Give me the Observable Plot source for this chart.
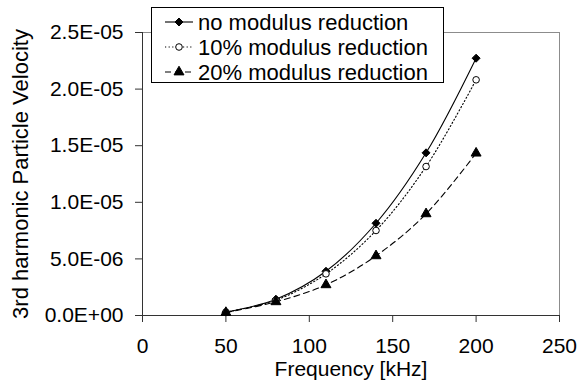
<!DOCTYPE html>
<html>
<head>
<meta charset="utf-8">
<script src="https://cdn.jsdelivr.net/npm/d3@7"></script>
<script src="https://cdn.jsdelivr.net/npm/@observablehq/plot@0.6"></script>
<style>
  html, body { margin: 0; padding: 0; background: #fff; }
  #wrap { position: relative; width: 582px; height: 385px; font-family: "Liberation Sans", Arial, sans-serif; }
  #legend { position: absolute; left: 151px; top: 7px; }
  #legend svg { overflow: visible; display: block; }
</style>
</head>
<body>
<div id="wrap"><div id="chart"></div><div id="legend"></div></div>
<script>
const frequency = [50, 80, 110, 140, 170, 200];
const noReduction   = [3.0e-7, 1.44e-6, 3.91e-6, 8.15e-6, 1.437e-5, 2.273e-5];
const reduction10   = [3.0e-7, 1.35e-6, 3.68e-6, 7.51e-6, 1.316e-5, 2.082e-5];
const reduction20   = [2.6e-7, 1.21e-6, 2.71e-6, 5.27e-6, 8.98e-6, 1.434e-5];
const seriesNames = ["no modulus reduction", "10% modulus reduction", "20% modulus reduction"];
const xTicks = [0, 50, 100, 150, 200, 250];
const yTicks = [0, 5e-6, 1e-5, 1.5e-5, 2e-5, 2.5e-5];

const styles = [
  {symbol: "diamond2", r: 3.6, fill: "black", stroke: "black", dash: null},
  {symbol: "circle", r: 3.3, fill: "white", stroke: "black", dash: "1.2,2.4"},
  {symbol: "triangle", r: 3.7, fill: "black", stroke: "black", dash: "6,4"}
];
const allSeries = [noReduction, reduction10, reduction20];
const rows = allSeries.map((vals, i) => frequency.map((f, j) => ({f, v: vals[j], s: seriesNames[i]})));

const fmtY = d => {
  const s = d.toExponential(1).toUpperCase();
  return s.replace(/E([+-])(\d)$/, "E$10$2");
};

const marks = [
  Plot.frame({stroke: "#8c8c8c"}),
  Plot.axisX({ticks: xTicks, tickSize: 7, tickPadding: 16, fontSize: 21, stroke: "#333",
    label: null}),
  Plot.axisX({ticks: [], label: "Frequency [kHz]", labelAnchor: "center", labelOffset: 60, labelArrow: "none", fontSize: 21}),
  Plot.axisY({ticks: yTicks, tickSize: 7, tickPadding: 12, fontSize: 21, tickFormat: fmtY, stroke: "#333",
    label: null}),
  Plot.axisY({ticks: [], label: "3rd harmonic Particle Velocity", labelAnchor: "center", labelOffset: 130, labelArrow: "none", fontSize: 22}),
  Plot.ruleX([0], {stroke: "#333"}),
  Plot.ruleY([0], {stroke: "#333"})
];
rows.forEach((data, i) => {
  const st = styles[i];
  marks.push(Plot.line(data, {x: "f", y: "v", curve: "catmull-rom", stroke: "black", strokeWidth: 1.1, strokeDasharray: st.dash}));
});
rows.forEach((data, i) => {
  const st = styles[i];
  marks.push(Plot.dot(data, {x: "f", y: "v", symbol: () => st.symbol, r: st.r, fill: st.fill, stroke: st.stroke, strokeWidth: 1}));
});

const chart = Plot.plot({
  width: 582, height: 385,
  marginLeft: 142, marginRight: 23, marginTop: 32, marginBottom: 70,
  style: {fontFamily: "'Liberation Sans', Arial, sans-serif", fontSize: "21px", color: "black", background: "white"},
  x: {domain: [0, 250]},
  y: {domain: [0, 2.5e-5]},
  marks
});
document.getElementById("chart").append(chart);

// Legend
const lw = 293, lh = 76;
const svg = d3.select("#legend").append("svg").attr("width", lw).attr("height", lh)
  .style("font-family", "'Liberation Sans', Arial, sans-serif");
svg.append("rect").attr("x", 0.5).attr("y", 0.5).attr("width", lw - 1).attr("height", lh - 1)
  .attr("fill", "white").attr("stroke", "black");
const symMap = {diamond2: d3.symbolDiamond2, circle: d3.symbolCircle, triangle: d3.symbolTriangle};
seriesNames.forEach((name, i) => {
  const st = styles[i];
  const cy = 15 + i * 25;
  svg.append("line").attr("x1", 14).attr("x2", 42).attr("y1", cy).attr("y2", cy)
    .attr("stroke", "black").attr("stroke-width", 1.1).attr("stroke-dasharray", st.dash);
  svg.append("path").attr("transform", `translate(28,${cy})`)
    .attr("d", d3.symbol(symMap[st.symbol], Math.PI * st.r * st.r)())
    .attr("fill", st.fill).attr("stroke", st.stroke);
  svg.append("text").attr("x", 47).attr("y", cy).attr("dy", "0.36em")
    .attr("font-size", 22).attr("fill", "black").text(name);
});
</script>
</body>
</html>
